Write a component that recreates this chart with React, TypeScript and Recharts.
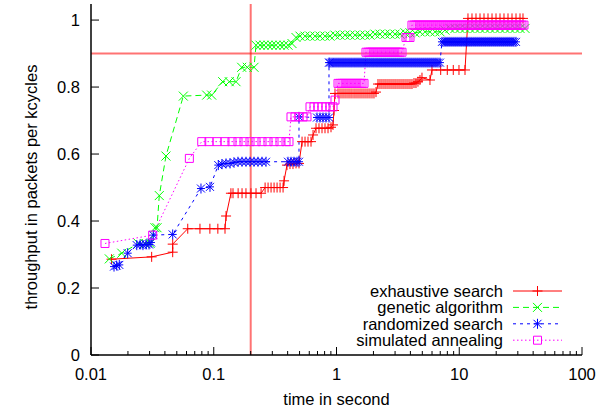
import React from 'react';
import { LineChart, Line, XAxis, YAxis, ReferenceLine, Legend } from 'recharts';

type Pt = [number, number];

// time (s) / throughput pairs
const exhaustive: Pt[] = [
  [0.0147, 0.286], [0.0312, 0.293], [0.0463, 0.307], [0.0463, 0.331], [0.0614, 0.377],
  [0.0772, 0.377], [0.093, 0.377], [0.108, 0.377], [0.1235, 0.377], [0.126, 0.415],
  [0.138, 0.483], [0.1435, 0.483], [0.158, 0.483], [0.17, 0.483], [0.183, 0.483],
  [0.201, 0.483], [0.221, 0.483], [0.243, 0.483], [0.262, 0.5], [0.277, 0.5],
  [0.293, 0.5], [0.31, 0.5], [0.328, 0.5], [0.347, 0.5], [0.367, 0.5], [0.374, 0.52],
  [0.395, 0.567], [0.418, 0.57], [0.442, 0.57], [0.468, 0.572], [0.495, 0.572],
  [0.524, 0.637], [0.554, 0.637], [0.586, 0.637], [0.62, 0.637], [0.644, 0.657],
  [0.681, 0.677], [0.72, 0.677], [0.762, 0.677], [0.806, 0.677], [0.853, 0.677],
  [0.902, 0.68], [0.937, 0.687], [0.954, 0.73], [0.972, 0.781],
  [1.029, 0.781], [1.068, 0.781], [1.109, 0.781], [1.151, 0.781], [1.195, 0.781],
  [1.241, 0.781], [1.288, 0.781], [1.337, 0.781], [1.389, 0.781], [1.442, 0.781],
  [1.497, 0.781], [1.554, 0.781], [1.613, 0.781], [1.675, 0.781], [1.739, 0.781],
  [1.805, 0.781], [1.874, 0.781], [1.946, 0.781], [2.02, 0.781], [2.098, 0.785],
  [2.178, 0.809], [2.261, 0.809], [2.347, 0.809], [2.437, 0.809], [2.53, 0.809],
  [2.627, 0.809], [2.728, 0.809], [2.832, 0.809], [2.94, 0.809], [3.052, 0.809],
  [3.169, 0.809], [3.29, 0.809], [3.416, 0.809], [3.546, 0.809], [3.682, 0.809],
  [3.823, 0.809], [3.969, 0.809], [4.12, 0.809], [4.278, 0.812], [4.441, 0.812],
  [4.611, 0.816], [4.787, 0.821], [4.97, 0.828], [5.774, 0.821], [5.995, 0.851],
  [7.06, 0.851], [7.99, 0.851], [8.94, 0.851], [9.95, 0.851], [11.14, 0.851],
  [11.78, 1.005], [12.7, 1.005], [13.69, 1.005], [14.76, 1.005], [15.91, 1.005],
  [17.15, 1.005], [18.49, 1.005], [19.93, 1.005], [21.48, 1.005], [23.15, 1.005],
  [24.96, 1.005], [26.9, 1.005], [29.0, 1.005], [31.26, 1.005], [33.06, 1.005],
];

const genetic: Pt[] = [
  [0.0141, 0.287], [0.0178, 0.304], [0.0243, 0.333], [0.0275, 0.333], [0.0303, 0.333],
  [0.0332, 0.38], [0.0345, 0.38], [0.036, 0.476], [0.0408, 0.594], [0.0565, 0.773],
  [0.0876, 0.776], [0.0962, 0.776], [0.1183, 0.816], [0.1339, 0.816], [0.1518, 0.816],
  [0.1689, 0.859], [0.1876, 0.859], [0.2128, 0.859], [0.2209, 0.925], [0.2382, 0.925],
  [0.2567, 0.925], [0.2767, 0.925], [0.2983, 0.925], [0.3215, 0.925], [0.3465, 0.925],
  [0.3736, 0.925], [0.4026, 0.925], [0.434, 0.93], [0.4678, 0.948], [0.504, 0.952],
  [0.554, 0.952], [0.608, 0.952], [0.668, 0.952], [0.734, 0.952], [0.806, 0.952],
  [0.885, 0.952], [0.972, 0.955], [1.068, 0.955], [1.173, 0.955], [1.288, 0.955],
  [1.415, 0.955], [1.554, 0.955], [1.707, 0.955], [1.875, 0.955], [2.059, 0.958],
  [2.262, 0.958], [2.484, 0.958], [2.728, 0.958], [2.996, 0.958], [3.291, 0.958],
  [3.614, 0.962], [3.97, 0.962], [4.36, 0.962], [4.789, 0.965], [5.26, 0.965],
  [5.777, 0.965], [6.345, 0.965], [6.969, 0.965], [7.654, 0.97], [8.407, 0.975],
  [9.234, 0.975], [10.14, 0.975], [11.14, 0.975], [12.23, 0.975], [13.44, 0.975],
  [14.76, 0.975], [16.21, 0.975], [17.8, 0.975], [19.56, 0.975], [21.48, 0.975],
  [23.59, 0.975], [25.91, 0.975], [28.46, 0.975], [31.26, 0.975], [34.33, 0.975],
];

const randomized: Pt[] = [
  [0.0154, 0.264], [0.0162, 0.267], [0.017, 0.269], [0.0199, 0.304], [0.0236, 0.328],
  [0.0251, 0.33], [0.0265, 0.328], [0.0281, 0.33], [0.0297, 0.33], [0.0308, 0.336],
  [0.0322, 0.358], [0.0463, 0.36], [0.0787, 0.497], [0.0932, 0.502], [0.1089, 0.567],
  [0.1167, 0.57], [0.1259, 0.572], [0.1357, 0.572], [0.1462, 0.575], [0.1576, 0.577],
  [0.1699, 0.577], [0.1831, 0.577], [0.1974, 0.577], [0.2128, 0.577], [0.2293, 0.577],
  [0.2472, 0.577], [0.2665, 0.577], [0.4026, 0.577], [0.4258, 0.577], [0.4505, 0.577],
  [0.4766, 0.577], [0.4948, 0.577], [0.4948, 0.711], [0.6937, 0.709], [0.7338, 0.709],
  [0.7762, 0.709], [0.8212, 0.709], [0.8686, 0.709], [0.8686, 0.873],
  [0.8852, 0.873], [0.9191, 0.873], [0.9541, 0.873], [0.9907, 0.873], [1.029, 0.873],
  [1.068, 0.873], [1.109, 0.873], [1.151, 0.873], [1.195, 0.873], [1.241, 0.873],
  [1.288, 0.873], [1.337, 0.873], [1.389, 0.873], [1.442, 0.873], [1.497, 0.873],
  [1.554, 0.873], [1.613, 0.873], [1.675, 0.873], [1.739, 0.873], [1.805, 0.873],
  [1.874, 0.873], [1.946, 0.873], [2.02, 0.873], [2.098, 0.873], [2.178, 0.873],
  [2.261, 0.873], [2.347, 0.873], [2.437, 0.873], [2.53, 0.873], [2.627, 0.873],
  [2.728, 0.873], [2.832, 0.873], [2.94, 0.873], [3.052, 0.873], [3.169, 0.873],
  [3.29, 0.873], [3.416, 0.873], [3.546, 0.873], [3.682, 0.873], [3.823, 0.873],
  [3.969, 0.873], [4.12, 0.873], [4.278, 0.873], [4.441, 0.873], [4.611, 0.873],
  [4.787, 0.873], [4.97, 0.873], [5.16, 0.873], [5.357, 0.873], [5.562, 0.873],
  [5.775, 0.873], [5.995, 0.873], [6.225, 0.873], [6.463, 0.873], [6.709, 0.873],
  [6.966, 0.873], [7.232, 0.935], [7.509, 0.935], [7.796, 0.935], [8.093, 0.935],
  [8.403, 0.935], [8.724, 0.935], [9.057, 0.935], [9.403, 0.935], [9.763, 0.935],
  [10.14, 0.935], [10.52, 0.935], [10.93, 0.935], [11.34, 0.935], [11.78, 0.935],
  [12.23, 0.935], [12.69, 0.935], [13.18, 0.935], [13.68, 0.935], [14.21, 0.935],
  [14.75, 0.935], [15.31, 0.935], [15.9, 0.935], [16.5, 0.935], [17.14, 0.935],
  [17.79, 0.935], [18.47, 0.935], [19.18, 0.935], [19.91, 0.935], [20.67, 0.935],
  [21.46, 0.935], [22.28, 0.935], [23.13, 0.935], [24.02, 0.935], [24.93, 0.935],
  [25.89, 0.935], [26.88, 0.935], [27.9, 0.935], [28.97, 0.935],
];

const annealing: Pt[] = [
  [0.013, 0.333], [0.0318, 0.358], [0.0633, 0.587], [0.0798, 0.637], [0.0915, 0.637],
  [0.1063, 0.637], [0.1235, 0.637], [0.1408, 0.637], [0.1576, 0.637], [0.1764, 0.637],
  [0.1974, 0.637], [0.2209, 0.637], [0.2472, 0.637], [0.2767, 0.637], [0.3097, 0.637],
  [0.3465, 0.637], [0.3878, 0.637], [0.4102, 0.637], [0.4258, 0.711], [0.4591, 0.711],
  [0.4948, 0.711], [0.5335, 0.711], [0.575, 0.711], [0.6083, 0.741], [0.6558, 0.741],
  [0.7069, 0.741], [0.7618, 0.741], [0.8212, 0.741], [0.8851, 0.741], [0.9366, 0.741],
  [0.9723, 0.761], [1.029, 0.811], [1.068, 0.811], [1.109, 0.811], [1.151, 0.811],
  [1.195, 0.811], [1.241, 0.811], [1.288, 0.811], [1.337, 0.811], [1.389, 0.811],
  [1.442, 0.811], [1.497, 0.811], [1.554, 0.811], [1.613, 0.811], [1.675, 0.811],
  [1.739, 0.904], [1.805, 0.904], [1.874, 0.904], [1.946, 0.904], [2.02, 0.904],
  [2.098, 0.904], [2.178, 0.904], [2.261, 0.904], [2.347, 0.904], [2.437, 0.904],
  [2.53, 0.904], [2.627, 0.904], [2.728, 0.904], [2.832, 0.904], [2.94, 0.904],
  [3.052, 0.904], [3.169, 0.904], [3.29, 0.904], [3.416, 0.904], [3.682, 0.948],
  [3.823, 0.948], [3.969, 0.948], [4.12, 0.985], [4.278, 0.985], [4.441, 0.985],
  [4.611, 0.985], [4.787, 0.985], [4.97, 0.985], [5.16, 0.985], [5.357, 0.985],
  [5.562, 0.985], [5.775, 0.985], [5.995, 0.985], [6.225, 0.985], [6.463, 0.985],
  [6.709, 0.985], [6.966, 0.985], [7.232, 0.985], [7.509, 0.985], [7.796, 0.985],
  [8.093, 0.985], [8.403, 0.985], [8.724, 0.985], [9.057, 0.985], [9.403, 0.985],
  [9.763, 0.985], [10.14, 0.985], [10.52, 0.985], [10.93, 0.985], [11.34, 0.985],
  [11.78, 0.985], [12.23, 0.985], [12.69, 0.985], [13.18, 0.985], [13.68, 0.985],
  [14.21, 0.985], [14.75, 0.985], [15.31, 0.985], [15.9, 0.985], [16.5, 0.985],
  [17.14, 0.985], [17.79, 0.985], [18.47, 0.985], [19.18, 0.985], [19.91, 0.985],
  [20.67, 0.985], [21.46, 0.985], [22.28, 0.985], [23.13, 0.985], [24.02, 0.985],
  [24.93, 0.985], [25.89, 0.985], [26.88, 0.985], [27.9, 0.985], [28.97, 0.985],
  [30.08, 0.985], [31.23, 0.985], [32.42, 0.985], [33.66, 0.985],
];

const xMajor = [0.01, 0.1, 1, 10, 100];
const xMajorLabels = ['0.01', '0.1', '1', '10', '100'];
const xMinor = [
  0.02, 0.03, 0.04, 0.05, 0.06, 0.07, 0.08, 0.09,
  0.2, 0.3, 0.4, 0.5, 0.6, 0.7, 0.8, 0.9,
  2, 3, 4, 5, 6, 7, 8, 9,
  20, 30, 40, 50, 60, 70, 80, 90,
];
const yTicks = [0, 0.2, 0.4, 0.6, 0.8, 1];
const yTickLabels = ['0', '0.2', '0.4', '0.6', '0.8', '1'];

const timeLimit = 0.2;
const throughputTarget = 0.9;

const FONT = '"Liberation Sans", Arial, Helvetica, sans-serif';
const FS = 16.5;

type MarkerKind = 'plus' | 'cross' | 'star' | 'square';

const series: { name: string; data: Pt[]; color: string; dash?: string; marker: MarkerKind }[] = [
  { name: 'exhaustive search', data: exhaustive, color: '#ff0000', marker: 'plus' },
  { name: 'genetic algorithm', data: genetic, color: '#00ff00', dash: '6 4', marker: 'cross' },
  { name: 'randomized search', data: randomized, color: '#0000ff', dash: '3 4', marker: 'star' },
  { name: 'simulated annealing', data: annealing, color: '#ff00ff', dash: '1.5 2.5', marker: 'square' },
];

function markerPath(kind: MarkerKind, cx: number, cy: number): string {
  const p = 5;
  const c = 4.5;
  if (kind === 'plus') return `M${cx - p},${cy}H${cx + p}M${cx},${cy - p}V${cy + p}`;
  if (kind === 'cross') return `M${cx - c},${cy - c}L${cx + c},${cy + c}M${cx - c},${cy + c}L${cx + c},${cy - c}`;
  if (kind === 'star') {
    return `M${cx - 4},${cy}H${cx + 4}M${cx},${cy - 5}V${cy + 5}M${cx - 4},${cy - 4}L${cx + 4},${cy + 4}M${cx - 4},${cy + 4}L${cx + 4},${cy - 4}`;
  }
  const s = 4;
  return `M${cx - s},${cy - s}H${cx + s}V${cy + s}H${cx - s}Z`;
}

function Marker({ kind, cx, cy, color }: { kind: MarkerKind; cx: number; cy: number; color: string }) {
  if (cx == null || cy == null || Number.isNaN(cx) || Number.isNaN(cy)) return <g />;
  return <path d={markerPath(kind, cx, cy)} stroke={color} strokeWidth={1} fill="none" strokeDasharray="none" />;
}

function isMajor(v: number): boolean {
  const l = Math.log10(v);
  return Math.abs(l - Math.round(l)) < 1e-6;
}

function XTick(props: any) {
  const { x, y, payload, side } = props;
  const v = payload.value as number;
  const len = isMajor(v) ? 8 : 4;
  const dir = side === 'top' ? 1 : -1;
  const i = xMajor.findIndex((m) => Math.abs(m - v) < 1e-9);
  return (
    <g>
      <line x1={x} y1={y} x2={x} y2={y + dir * len} stroke="#000" strokeWidth={1} />
      {side === 'bottom' && i >= 0 && (
        <text x={x} y={y + 19} textAnchor="middle" dominantBaseline="central" fontSize={FS} fontFamily={FONT} fill="#000">
          {xMajorLabels[i]}
        </text>
      )}
    </g>
  );
}

function YTick(props: any) {
  const { x, y, payload, side } = props;
  const v = payload.value as number;
  const dir = side === 'left' ? 1 : -1;
  const i = yTicks.findIndex((t) => Math.abs(t - v) < 1e-9);
  return (
    <g>
      <line x1={x} y1={y} x2={x + dir * 8} y2={y} stroke="#000" strokeWidth={1} />
      {side === 'left' && i >= 0 && (
        <text x={x - 11} y={y} textAnchor="end" dominantBaseline="central" fontSize={FS} fontFamily={FONT} fill="#000">
          {yTickLabels[i]}
        </text>
      )}
    </g>
  );
}

function LegendBox() {
  return (
    <svg width={240} height={72} style={{ display: 'block', overflow: 'visible' }}>
      {series.map((s, i) => {
        const y = 11 + i * 16.4;
        return (
          <g key={s.name}>
            <text x={153} y={y} textAnchor="end" dominantBaseline="central" fontSize={FS} fontFamily={FONT} fill="#000">
              {s.name}
            </text>
            <line x1={163} y1={y} x2={212} y2={y} stroke={s.color} strokeWidth={1} strokeDasharray={s.dash} />
            <Marker kind={s.marker} cx={187.5} cy={y} color={s.color} />
          </g>
        );
      })}
    </svg>
  );
}

const axisLine = { stroke: '#000', strokeWidth: 1.5 };
const xTicks = [...xMajor, ...xMinor].sort((a, b) => a - b);

export default function App() {
  return (
    <div style={{ position: 'absolute', left: 0, top: 0, background: '#fff', fontFamily: FONT }}>
      <LineChart width={615} height={412} margin={{ top: 4, right: 33, bottom: 0, left: 0 }}>
        <XAxis
          dataKey="x"
          type="number"
          scale="log"
          domain={[0.01, 100]}
          allowDataOverflow
          ticks={xTicks}
          interval={0}
          height={57}
          tickSize={0}
          tickMargin={0}
          tickLine={false}
          axisLine={axisLine}
          tick={(p: any) => <XTick {...p} side="bottom" />}
          label={{
            content: (lp: any) => {
              const vb = lp.viewBox;
              return (
                <text x={vb.x + vb.width / 2} y={vb.y + 44} textAnchor="middle" dominantBaseline="central" fontSize={FS} fontFamily={FONT} fill="#000">
                  time in second
                </text>
              );
            },
          }}
        />
        <XAxis
          xAxisId="top"
          orientation="top"
          dataKey="x"
          type="number"
          scale="log"
          domain={[0.01, 100]}
          allowDataOverflow
          ticks={xTicks}
          interval={0}
          height={0}
          tickSize={0}
          tickMargin={0}
          tickLine={false}
          axisLine={axisLine}
          tick={(p: any) => <XTick {...p} side="top" />}
        />
        <YAxis
          type="number"
          domain={[0, 1.048]}
          allowDataOverflow
          ticks={yTicks}
          interval={0}
          width={91}
          tickSize={0}
          tickMargin={0}
          tickLine={false}
          axisLine={axisLine}
          tick={(p: any) => <YTick {...p} side="left" />}
          label={{
            content: () => (
              <text x={31} y={187} transform="rotate(-90 31 187)" textAnchor="middle" dominantBaseline="central" fontSize={FS} fontFamily={FONT} fill="#000">
                throughput in packets per kcycles
              </text>
            ),
          }}
        />
        <YAxis
          yAxisId="right"
          orientation="right"
          type="number"
          domain={[0, 1.048]}
          allowDataOverflow
          ticks={yTicks}
          interval={0}
          width={0}
          tickSize={0}
          tickMargin={0}
          tickLine={false}
          axisLine={axisLine}
          tick={(p: any) => <YTick {...p} side="right" />}
        />
        <ReferenceLine x={timeLimit} stroke="#ff0000" strokeOpacity={0.55} strokeWidth={2} />
        <ReferenceLine y={throughputTarget} stroke="#ff0000" strokeOpacity={0.55} strokeWidth={2} />
        {series.map((s) => (
          <Line
            key={s.name}
            name={s.name}
            data={s.data.map(([x, y]) => ({ x, y }))}
            dataKey="y"
            type="linear"
            stroke={s.color}
            strokeWidth={1}
            strokeDasharray={s.dash}
            isAnimationActive={false}
            dot={(p: any) => <Marker key={`${s.name}-${p.index}`} kind={s.marker} cx={p.cx} cy={p.cy} color={s.color} />}
            activeDot={false}
          />
        ))}
        <Legend
          layout="vertical"
          align="center"
          verticalAlign="middle"
          wrapperStyle={{ left: 350, top: 280, width: 240 }}
          content={() => <LegendBox />}
        />
      </LineChart>
    </div>
  );
}
